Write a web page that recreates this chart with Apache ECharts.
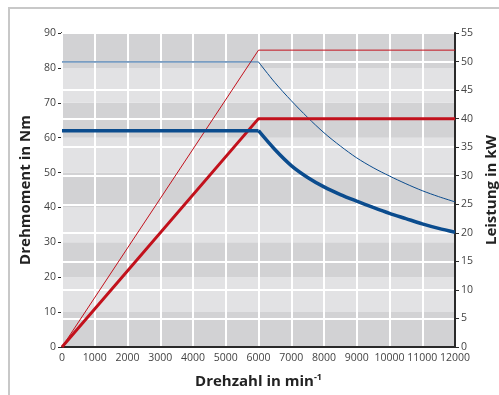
<!DOCTYPE html>
<html>
<head>
<meta charset="utf-8">
<script src="https://cdn.jsdelivr.net/npm/echarts@6/dist/echarts.min.js"></script>
<style>
  html, body { margin: 0; padding: 0; background: #ffffff; }
  #chart { width: 499px; height: 395px; }
</style>
</head>
<body>
<div id="chart"></div>
<script>
// Speed axis (min^-1) and tick labels
const speedTicks = [0, 1000, 2000, 3000, 4000, 5000, 6000, 7000, 8000, 9000, 10000, 11000, 12000];
const torqueTicks = [0, 10, 20, 30, 40, 50, 60, 70, 80, 90];
const powerTicks = [0, 5, 10, 15, 20, 25, 30, 35, 40, 45, 50, 55];

// Torque curves (Nm) over speed; corner speed at index 1
const torqueSpeeds = [0, 6000, 6500, 7000, 7500, 8000, 8500, 9000, 9500, 10000, 10500, 11000, 11500, 12000];
const torquePeak = [81.7, 81.7, 75.8, 70.6, 65.8, 61.4, 57.6, 54.2, 51.4, 49.0, 46.8, 44.8, 43.1, 41.6];
const torqueCont = [62.0, 62.0, 56.6, 52.0, 48.6, 45.9, 43.7, 41.8, 40.0, 38.3, 36.8, 35.3, 34.0, 32.9];

// Power curves (kW) over speed
const powerSpeeds = [0, 6000, 12000];
const powerPeak = [0, 52, 52];
const powerCont = [0, 40, 40];

const BLUE = '#0b4c8e';
const RED = '#c2111c';

const pairs = (xs, ys) => xs.map((x, i) => [x, ys[i]]);
// constant-torque range and field-weakening range share the corner point
const flatPart = (xs, ys) => pairs(xs, ys).slice(0, 2);
const fallPart = (xs, ys) => pairs(xs, ys).slice(1);

const chart = echarts.init(document.getElementById('chart'), null, { renderer: 'canvas' });

const labelStyle = { color: '#444', fontSize: 10.5, fontFamily: 'Open Sans' };
const titleStyle = { color: '#222', fontSize: 15, fontWeight: 'bold', fontFamily: 'Open Sans' };
const plain = v => String(v);

function torqueSeries(name, ys, width, z) {
  const base = { type: 'line', yAxisIndex: 0, symbol: 'none', lineStyle: { color: BLUE, width: width }, z: z };
  return [
    Object.assign({ name: name, data: flatPart(torqueSpeeds, ys) }, base),
    Object.assign({ name: name, data: fallPart(torqueSpeeds, ys), smooth: 0.3 }, base)
  ];
}

chart.setOption({
  animation: false,
  backgroundColor: '#ffffff',
  graphic: [{
    type: 'rect',
    shape: { x: 9, y: 8, width: 700, height: 700 },
    style: { fill: 'none', stroke: '#c8c8c8', lineWidth: 2 },
    silent: true,
    z: -10
  }],
  grid: {
    left: 62, right: 44, top: 33, bottom: 48,
    containLabel: false,
    outerBoundsMode: 'none',
    show: true,
    borderColor: '#2a2a2a',
    borderWidth: 1.5,
    backgroundColor: 'transparent'
  },
  xAxis: {
    type: 'value',
    min: speedTicks[0],
    max: speedTicks[speedTicks.length - 1],
    interval: 1000,
    z: 1,
    name: '{t|Drehzahl in min}{s|-1}',
    nameLocation: 'middle',
    nameGap: 26,
    nameTextStyle: {
      rich: {
        t: titleStyle,
        s: { color: '#222', fontSize: 9, fontWeight: 'bold', fontFamily: 'Open Sans', verticalAlign: 'top', padding: [0, 0, 8, 0] }
      }
    },
    axisLine: { show: true, lineStyle: { color: '#2a2a2a', width: 2 } },
    axisTick: { show: false },
    axisLabel: Object.assign({ margin: 6, formatter: plain, showMinLabel: true, showMaxLabel: true }, labelStyle),
    splitLine: { show: true, lineStyle: { color: '#ffffff', width: 2 } }
  },
  yAxis: [{
    type: 'value',
    position: 'left',
    min: torqueTicks[0],
    max: torqueTicks[torqueTicks.length - 1],
    interval: 10,
    z: 0,
    name: 'Drehmoment in Nm',
    nameLocation: 'middle',
    nameGap: 22,
    nameTextStyle: titleStyle,
    axisLine: { show: true, lineStyle: { color: '#2a2a2a', width: 2 } },
    axisTick: { show: true, length: 4, lineStyle: { color: '#2a2a2a' } },
    axisLabel: Object.assign({ margin: 6, formatter: plain }, labelStyle),
    splitLine: { show: false },
    splitArea: { show: true, areaStyle: { color: ['#d2d2d4', '#e2e2e4'] } }
  }, {
    type: 'value',
    position: 'right',
    min: powerTicks[0],
    max: powerTicks[powerTicks.length - 1],
    interval: 5,
    z: 1,
    name: 'Leistung in kW',
    nameLocation: 'middle',
    nameGap: 23,
    nameTextStyle: titleStyle,
    axisLine: { show: true, lineStyle: { color: '#2a2a2a', width: 2 } },
    axisTick: { show: true, length: 4, lineStyle: { color: '#2a2a2a' } },
    axisLabel: Object.assign({ margin: 6, formatter: plain }, labelStyle),
    splitLine: { show: true, lineStyle: { color: '#ffffff', width: 2 } },
    splitArea: { show: false }
  }],
  series: [{
    name: 'Leistung max',
    type: 'line',
    yAxisIndex: 1,
    data: pairs(powerSpeeds, powerPeak),
    symbol: 'none',
    lineStyle: { color: RED, width: 1 },
    z: 3
  }, {
    name: 'Leistung S1',
    type: 'line',
    yAxisIndex: 1,
    data: pairs(powerSpeeds, powerCont),
    symbol: 'none',
    lineStyle: { color: RED, width: 3 },
    z: 4
  }].concat(
    torqueSeries('Drehmoment max', torquePeak, 1, 3),
    torqueSeries('Drehmoment S1', torqueCont, 3.5, 4)
  )
});
</script>
</body>
</html>
